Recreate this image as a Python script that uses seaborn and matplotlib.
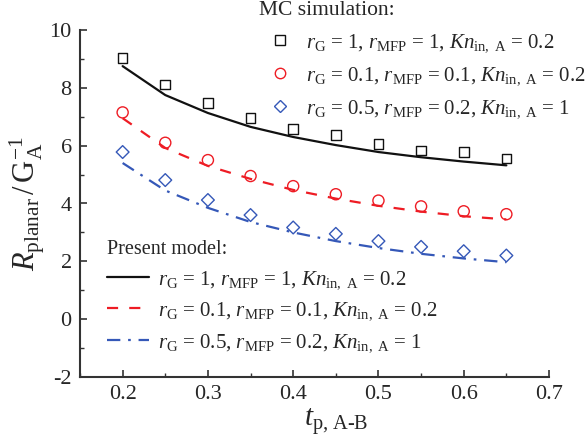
import matplotlib
matplotlib.use("Agg")
import matplotlib.pyplot as plt
from matplotlib.ticker import MultipleLocator
from matplotlib.lines import Line2D
import seaborn as sns
import pandas as pd

sns.set_theme(style="ticks")
plt.rcParams["font.family"] = ["Liberation Serif", "DejaVu Serif"]
plt.rcParams["mathtext.fontset"] = "custom"
plt.rcParams["mathtext.rm"] = "Liberation Serif"
plt.rcParams["mathtext.it"] = "Liberation Serif:italic"
plt.rcParams["mathtext.bf"] = "Liberation Serif:bold"
plt.rcParams["axes.unicode_minus"] = False

t = [0.2, 0.25, 0.3, 0.35, 0.4, 0.45, 0.5, 0.55, 0.6, 0.65]

mc_case1 = [9.03, 8.12, 7.47, 6.95, 6.58, 6.37, 6.06, 5.83, 5.77, 5.56]
mc_case2 = [7.15, 6.10, 5.50, 4.95, 4.60, 4.32, 4.10, 3.90, 3.73, 3.63]
mc_case3 = [5.78, 4.81, 4.12, 3.60, 3.17, 2.95, 2.70, 2.50, 2.35, 2.20]

model_case1 = [8.75, 7.75, 7.13, 6.65, 6.30, 6.02, 5.78, 5.60, 5.45, 5.32]
model_case2 = [6.95, 5.92, 5.30, 4.85, 4.47, 4.17, 3.92, 3.72, 3.56, 3.45]
model_case3 = [5.40, 4.45, 3.85, 3.36, 3.00, 2.70, 2.46, 2.26, 2.10, 1.97]

labels = [
    r"$r_{\mathrm{G}}$ = 1, $r_{\mathrm{MFP}}$ = 1, $Kn_{\mathrm{in,\ A}}$ = 0.2",
    r"$r_{\mathrm{G}}$ = 0.1, $r_{\mathrm{MFP}}$ = 0.1, $Kn_{\mathrm{in,\ A}}$ = 0.2",
    r"$r_{\mathrm{G}}$ = 0.5, $r_{\mathrm{MFP}}$ = 0.2, $Kn_{\mathrm{in,\ A}}$ = 1",
]
colors = ["#111111", "#ee1c24", "#3558b8"]
markers = ["s", "o", "D"]
msizes = [7, 8, 6.5]
linestyles = ["-", (0, (5, 5)), (0, (6, 3.5, 1.2, 3.5))]

fig = plt.figure(figsize=(5.87, 4.48), dpi=100)
ax = fig.add_axes([80 / 587, 1 - 377 / 448, (549 - 80) / 587, (377 - 30) / 448])

mc_sets = [mc_case1, mc_case2, mc_case3]
model_sets = [model_case1, model_case2, model_case3]

mc_handles = []
model_handles = []
for i in range(3):
    df_model = pd.DataFrame({"t": t, "R": model_sets[i]})
    sns.lineplot(data=df_model, x="t", y="R", ax=ax, color=colors[i],
                 linestyle=linestyles[i], linewidth=1.6, legend=False)
    df_mc = pd.DataFrame({"t": t, "R": mc_sets[i]})
    sns.scatterplot(data=df_mc, x="t", y="R", ax=ax, marker=markers[i],
                    s=msizes[i] ** 2, facecolor="none", edgecolor=colors[i],
                    linewidth=1.0, legend=False, zorder=3)
    mc_handles.append(Line2D([], [], linestyle="none", marker=markers[i],
                             markersize=msizes[i] - 0.5, markerfacecolor="none",
                             markeredgecolor=colors[i], markeredgewidth=1.0))
    model_handles.append(Line2D([], [], color=colors[i], linestyle=linestyles[i],
                                linewidth=1.6))

ax.set_xlim(0.15, 0.7)
ax.set_ylim(-2, 10)
ax.xaxis.set_minor_locator(MultipleLocator(0.05))
ax.yaxis.set_minor_locator(MultipleLocator(1))
ax.set_xticks([0.2, 0.3, 0.4, 0.5, 0.6, 0.7])
ax.set_xticklabels(["0.2", "0.3", "0.4", "0.5", "0.6", "0.7"])
ax.set_yticks([-2, 0, 2, 4, 6, 8, 10])
ax.set_yticklabels(["-2", "0", "2", "4", "6", "8", "10"])
ax.tick_params(which="major", direction="in", length=5, width=1.2,
               labelsize=16, color="#333333", pad=6)
ax.tick_params(which="minor", direction="in", length=3, width=1.0, color="#333333")
for side in ["top", "right"]:
    ax.spines[side].set_visible(False)
for side in ["left", "bottom"]:
    ax.spines[side].set_linewidth(1.5)
    ax.spines[side].set_color("#333333")

ax.set_xlabel(r"$t_{\text{p, A-B}}$", fontsize=21)
ax.xaxis.set_label_coords((336 - 80) / (549 - 80), -0.085)
ax.set_ylabel(r"$R_{\mathrm{planar}}\,/\,\mathrm{G}_{\mathrm{A}}^{-1}$", fontsize=22, labelpad=2)

leg1 = fig.legend(mc_handles, labels, loc="upper left",
                  bbox_to_anchor=(259 / 587, 0.997), frameon=False,
                  title="MC simulation:", title_fontsize=15.5, fontsize=15,
                  handlelength=2.0, handletextpad=0.25, labelspacing=0.55,
                  borderpad=0.0, borderaxespad=0.0, alignment="left")
leg2 = fig.legend(model_handles, labels, loc="upper left",
                  bbox_to_anchor=(107 / 587, 1 - 240 / 448), frameon=False,
                  title="Present model:", title_fontsize=14.5, fontsize=15,
                  handlelength=2.0, handletextpad=0.45, labelspacing=0.47,
                  borderpad=0.0, borderaxespad=0.0, alignment="left")

fig.savefig("out.png", dpi=100)
